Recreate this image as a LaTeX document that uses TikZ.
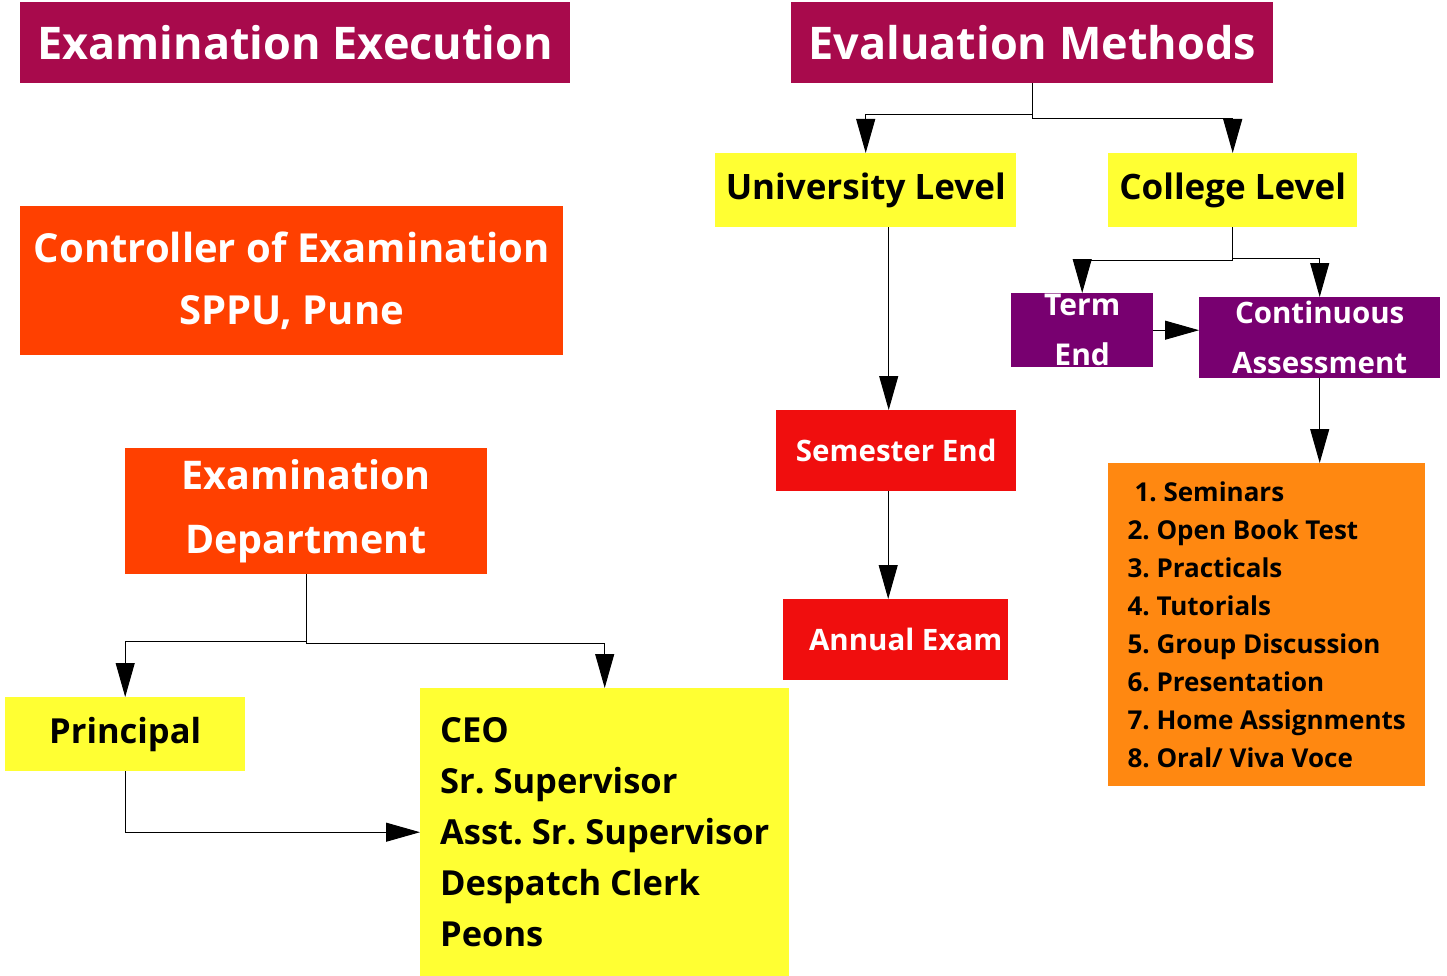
\documentclass[tikz,border=0pt]{standalone}
\usepackage{fontspec}
\setmainfont{Open Sans}
\frenchspacing
\usetikzlibrary{arrows.meta}
\definecolor{crimsonbox}{HTML}{A80A4C}
\definecolor{redorange}{HTML}{FF4000}
\definecolor{lemon}{HTML}{FFFF33}
\definecolor{plum}{HTML}{780070}
\definecolor{brightred}{HTML}{F00E0E}
\definecolor{tangerine}{HTML}{FF8811}
\tikzset{x=1pt,y=-1pt,
    box/.style={anchor=north west,inner sep=0pt,align=center},
    headbox/.style={box,fill=crimsonbox,text=white,font=\fontsize{45}{54}\selectfont\bfseries},
    officebox/.style={box,fill=redorange,text=white},
    levelbox/.style={box,fill=lemon,font=\fontsize{35}{42}\selectfont\bfseries},
    kindbox/.style={box,fill=plum,text=white},
    exambox/.style={box,fill=brightred,text=white,font=\fontsize{29.5}{35}\selectfont\bfseries},
    link/.style={line width=1pt,-{Triangle[length=34pt,width=19pt]}},
    }
\begin{document}
\begin{tikzpicture}
\useasboundingbox (0,0) rectangle (1447,976);
% headings
\node[headbox,minimum width=550,minimum height=81] (exe) at (20,2) {Examination Execution};
\node[headbox,minimum width=482,minimum height=81] (evm) at (791,2) {Evaluation Methods};
% left column
\node[officebox,minimum width=543,minimum height=149,
      font=\fontsize{40}{62}\selectfont\bfseries] (coe) at (20,206) {Controller of Examination\\SPPU, Pune};
\node[officebox,minimum width=362,minimum height=126,
      font=\fontsize{39.5}{64}\selectfont\bfseries] (dep) at (125,448) {Examination\\Department};
\node[levelbox,minimum width=240,minimum height=74,
      font=\fontsize{34.5}{40}\selectfont\bfseries] (pri) at (5,697) {Principal};
\node[box,fill=lemon,minimum width=369,minimum height=288,align=left,
      font=\fontsize{34.5}{51}\selectfont\bfseries] (ceo) at (420,688)
      {CEO\\Sr. Supervisor\\Asst. Sr. Supervisor\\Despatch Clerk\\Peons};
% right part
\node[levelbox,minimum width=301,minimum height=74] (uni) at (715,153) {University Level};
\node[levelbox,minimum width=249,minimum height=74] (col) at (1108,153) {College Level};
\node[exambox,minimum width=240,minimum height=81] (sem) at (776,410) {Semester End};
\node[exambox,minimum width=225,minimum height=81] (ann) at (783,599) {\hspace{20pt}Annual Exam};
\node[kindbox,minimum width=142,minimum height=74,
      font=\fontsize{30}{50}\selectfont\bfseries] (term) at (1011,293) {Term\\End};
\node[kindbox,minimum width=241,minimum height=81,
      font=\fontsize{29.5}{50}\selectfont\bfseries] (cont) at (1199,297) {Continuous\\Assessment};
\node[box,fill=tangerine,minimum width=317,minimum height=323,align=left,
      font=\fontsize{26}{37.9}\selectfont\bfseries] (lst) at (1108,463)
      {\hspace{7pt}1. Seminars\\2. Open Book Test\\3. Practicals\\4. Tutorials\\5. Group Discussion\\
        6. Presentation\\7. Home Assignments\\8. Oral/ Viva Voce};
% connectors
\draw[link] (evm.south) -- ++(0,31) -| (uni.north);
\draw[link] (evm.south) -- ++(0,35) -| (col.north);
\draw[link] ([xshift=23pt]uni.south) -- ([xshift=23pt]uni.south |- sem.north);
\draw[link] ([xshift=-8pt]sem.south) -- ([xshift=-8pt]sem.south |- ann.north);
\draw[link] (col.south) -- ++(0,33) -| (term.north);
\draw[link] (col.south) -- ++(0,31) -| (cont.north);
\draw[link] (term.east) -- (term.east -| cont.west);
\draw[link] (cont.south) -- (cont.south |- lst.north);
\draw[link] (dep.south) -- ++(0,67) -| (pri.north);
\draw[link] (dep.south) -- ++(0,69) -| (ceo.north);
\draw[link] (pri.south) |- (ceo.west);
\end{tikzpicture}
\end{document}
